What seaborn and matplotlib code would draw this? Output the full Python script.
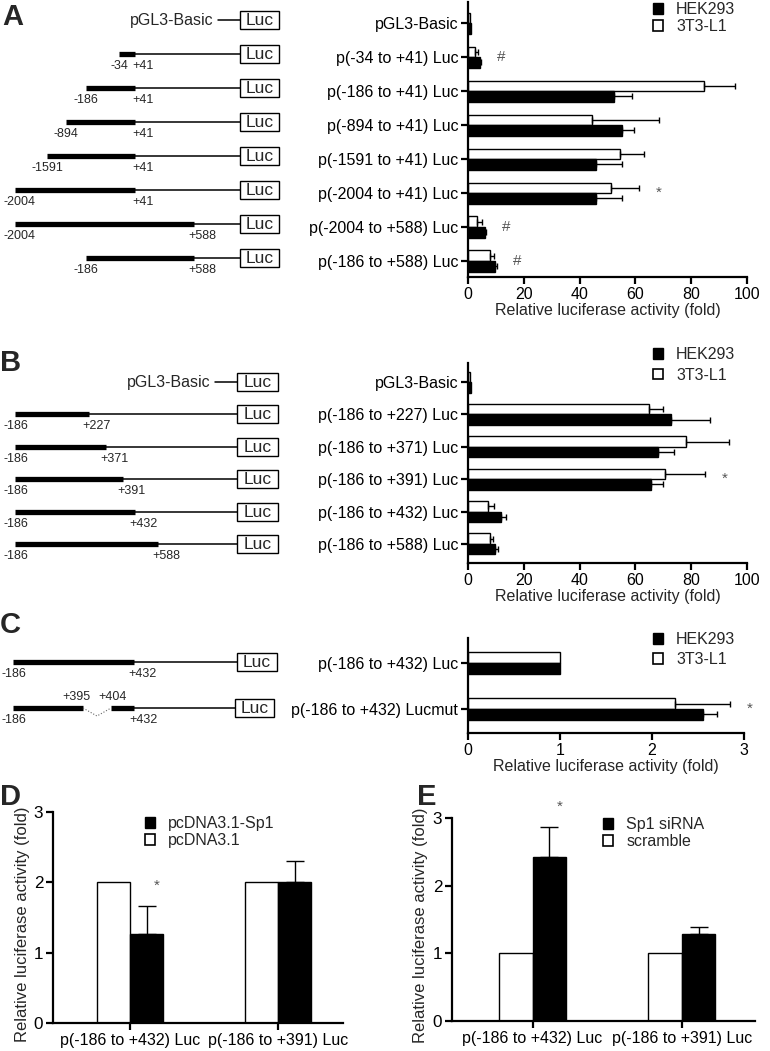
import numpy as np
import pandas as pd
import matplotlib
matplotlib.use('Agg')
import matplotlib.pyplot as plt
import seaborn as sns
from matplotlib.patches import Rectangle, Patch

# ---------------- data ----------------
# Panel A
a_constructs = ['pGL3-Basic', 'p(-34 to +41) Luc', 'p(-186 to +41) Luc', 'p(-894 to +41) Luc',
                'p(-1591 to +41) Luc', 'p(-2004 to +41) Luc', 'p(-2004 to +588) Luc',
                'p(-186 to +588) Luc']
a_hek = [1.0, 4.2, 52.2, 55.3, 45.7, 45.7, 6.0, 9.6]
a_hek_err = [0, 0.4, 6.5, 4.2, 9.6, 9.6, 0.6, 0.9]
a_3t3 = [0.8, 2.4, 84.7, 44.6, 54.6, 51.1, 3.2, 8.0]
a_3t3_err = [0, 1.2, 11.1, 23.9, 8.5, 10.2, 1.8, 1.2]
a_marks = ['', '#', '', '', '', '*', '#', '#']
a_start = [None, -34, -186, -894, -1591, -2004, -2004, -186]
a_end = [None, 41, 41, 41, 41, 41, 588, 588]

# Panel B
b_constructs = ['pGL3-Basic', 'p(-186 to +227) Luc', 'p(-186 to +371) Luc',
                'p(-186 to +391) Luc', 'p(-186 to +432) Luc', 'p(-186 to +588) Luc']
b_hek = [1.0, 72.8, 68.0, 65.5, 11.7, 9.7]
b_hek_err = [0, 13.8, 6.0, 4.3, 1.8, 1.0]
b_3t3 = [0.8, 64.7, 78.1, 70.7, 7.2, 7.9]
b_3t3_err = [0, 5.3, 15.3, 14.3, 2.0, 1.1]
b_marks = ['', '', '', '*', '', '']
b_start = [None, -186, -186, -186, -186, -186]
b_end = [None, 227, 371, 391, 432, 588]

# Panel C
c_constructs = ['p(-186 to +432) Luc', 'p(-186 to +432) Lucmut']
c_hek = [1.0, 2.55]
c_hek_err = [0, 0.16]
c_3t3 = [1.0, 2.25]
c_3t3_err = [0, 0.60]
c_marks = ['', '*']
c_start = [-186, -186]
c_end = [432, 432]
c_mut_gap = [395, 404]

# Panel D
d_constructs = ['p(-186 to +432) Luc', 'p(-186 to +391) Luc']
d_sp1 = [1.27, 2.0]
d_sp1_err = [0.39, 0.30]
d_ctrl = [2.0, 2.0]
d_marks = ['*', '']

# Panel E
e_constructs = ['p(-186 to +432) Luc', 'p(-186 to +391) Luc']
e_sirna = [2.42, 1.29]
e_sirna_err = [0.45, 0.10]
e_scr = [1.0, 1.0]
e_marks = ['*', '']

# schematic scales (genomic position -> drawing position) for the construct diagrams
a_knots_pos = [-2004, -1591, -894, -186, -34, 41, 588]
a_knots_px = [15, 47, 66, 86, 119, 135, 194]
b_knots_pos = [-186, 227, 371, 391, 432, 588]
b_knots_px = [15, 89, 106, 123, 135, 158]
c_knots_pos = [-186, 395, 404, 432]
c_knots_px = [13, 83, 111, 134]

# ---------------- style ----------------
sns.set_style('ticks')
plt.rcParams['font.family'] = ['Liberation Sans', 'DejaVu Sans']
plt.rcParams['axes.linewidth'] = 1.6
FS = 11.5

W, H = 770, 1051
fig = plt.figure(figsize=(W / 100, H / 100), dpi=100)


def px_axes(left, right, top, bottom):
    return fig.add_axes([left / W, 1 - bottom / H, (right - left) / W, (bottom - top) / H])


ov = fig.add_axes([0, 0, 1, 1])
ov.set_xlim(0, W)
ov.set_ylim(H, 0)
ov.axis('off')

MARK = '#555555'


def style_axes(ax):
    sns.despine(ax=ax)
    ax.patch.set_alpha(0)
    ax.tick_params(direction='out', length=5, width=1.6, labelsize=FS, pad=2, colors='black')
    for s in ['left', 'bottom']:
        ax.spines[s].set_linewidth(1.6)
        ax.spines[s].set_color('black')


def hbar_panel(ax, cats, hek, hek_err, t3, t3_err, marks, xmax, xticks, ylim, width):
    n = len(cats)
    df = pd.DataFrame({'construct': cats * 2,
                       'cell': ['3T3-L1'] * n + ['HEK293'] * n,
                       'value': t3 + hek})
    sns.barplot(data=df, x='value', y='construct', hue='cell', order=cats,
                hue_order=['3T3-L1', 'HEK293'],
                palette={'3T3-L1': 'white', 'HEK293': 'black'}, saturation=1,
                edgecolor='black', linewidth=1.0, width=width, orient='h',
                errorbar=None, legend=False, ax=ax)
    for cont, errs in zip(ax.containers, [t3_err, hek_err]):
        ys = np.array([b.get_y() + b.get_height() / 2 for b in cont])
        xs = np.array([b.get_width() for b in cont])
        e = np.array(errs, float)
        m = e > 0
        ax.errorbar(xs[m], ys[m], xerr=[np.zeros(m.sum()), e[m]], fmt='none',
                    ecolor='black', elinewidth=1.0, capsize=2, capthick=1.0)
    ends = np.maximum(np.array(t3) + np.array(t3_err), np.array(hek) + np.array(hek_err))
    for i, mk in enumerate(marks):
        if mk:
            ax.annotate(mk, xy=(ends[i], i), xytext=(20, 0), textcoords='offset pixels',
                        ha='center', va='center', fontsize=11, color=MARK,
                        annotation_clip=False)
    ax.set_xlim(0, xmax)
    ax.set_xticks(xticks)
    ax.set_ylim(*ylim)
    ax.set_ylabel('')
    ax.set_xlabel('Relative luciferase activity (fold)', fontsize=FS, labelpad=1)
    style_axes(ax)


def hek_legend(ax, x, top, spacing):
    handles = [Patch(facecolor='black', edgecolor='black', label='HEK293'),
               Patch(facecolor='white', edgecolor='black', linewidth=1.2, label='3T3-L1')]
    ax.legend(handles=handles, loc='upper left', bbox_to_anchor=(x / W, 1 - top / H),
              bbox_transform=fig.transFigure, frameon=False, borderpad=0, borderaxespad=0,
              handlelength=0.65, handleheight=0.65, handletextpad=0.8, labelspacing=spacing,
              fontsize=FS)


def row_y(ax, i, off=0):
    disp = ax.transData.transform((0, i))
    return ov.transData.inverted().transform(disp)[1] + off


def luc_box(y, bl, br):
    ov.add_patch(Rectangle((bl, y - 9), br - bl, 18, facecolor='white', edgecolor='black',
                           linewidth=1.0, zorder=3))
    ov.text((bl + br) / 2, y + 0.5, 'Luc', ha='center', va='center', fontsize=12.5, zorder=4)


def construct(y, s, e, kpos, kpx, bl, br):
    sx = np.interp(s, kpos, kpx)
    ex = np.interp(e, kpos, kpx)
    ov.plot([sx, ex], [y, y], color='black', lw=3.8, solid_capstyle='butt')
    ov.plot([ex, bl], [y, y], color='black', lw=1.1)
    luc_box(y, bl, br)
    if sx < 20:
        ov.text(max(1, sx - 12), y + 12, f'{s}', ha='left', va='center', fontsize=9)
    else:
        ov.text(sx, y + 12, f'{s}', ha='center', va='center', fontsize=9)
    ov.text(ex + 8, y + 12, f'+{e}', ha='center', va='center', fontsize=9)


def basic_row(y, text_right, bl, br):
    ov.text(text_right, y, 'pGL3-Basic', ha='right', va='center', fontsize=FS)
    ov.plot([text_right + 4, bl], [y, y], color='black', lw=1.1)
    luc_box(y, bl, br)


# ---------------- Panel A ----------------
axA = px_axes(468, 747, 2, 277)
hbar_panel(axA, a_constructs, a_hek, a_hek_err, a_3t3, a_3t3_err, a_marks,
           100, [0, 20, 40, 60, 80, 100], (7.47, -0.62), 0.62)
hek_legend(axA, 653, 2, 0.15)
for i in range(len(a_constructs)):
    y = row_y(axA, i, -3)
    if a_start[i] is None:
        basic_row(y, 214, 240, 279)
    else:
        construct(y, a_start[i], a_end[i], a_knots_pos, a_knots_px, 240, 279)

# ---------------- Panel B ----------------
axB = px_axes(468, 747, 363, 563)
hbar_panel(axB, b_constructs, b_hek, b_hek_err, b_3t3, b_3t3_err, b_marks,
           100, [0, 20, 40, 60, 80, 100], (5.59, -0.59), 0.65)
hek_legend(axB, 653, 347, 0.35)
for i in range(len(b_constructs)):
    y = row_y(axB, i, 0)
    if b_start[i] is None:
        basic_row(y, 211, 237, 278)
    else:
        construct(y, b_start[i], b_end[i], b_knots_pos, b_knots_px, 237, 278)

# ---------------- Panel C ----------------
axC = px_axes(468, 744, 638, 733)
hbar_panel(axC, c_constructs, c_hek, c_hek_err, c_3t3, c_3t3_err, c_marks,
           3, [0, 1, 2, 3], (1.52, -0.54), 0.46)
hek_legend(axC, 653, 632, 0.3)
y = row_y(axC, 0, -1)
construct(y, c_start[0], c_end[0], c_knots_pos, c_knots_px, 237, 277)
y = row_y(axC, 1, -1)
sx = np.interp(c_start[1], c_knots_pos, c_knots_px)
g1 = np.interp(c_mut_gap[0], c_knots_pos, c_knots_px)
g2 = np.interp(c_mut_gap[1], c_knots_pos, c_knots_px)
ex = np.interp(c_end[1], c_knots_pos, c_knots_px)
ov.plot([sx, g1], [y, y], color='black', lw=3.8, solid_capstyle='butt')
ov.plot([g1, (g1 + g2) / 2, g2], [y, y + 8, y], color='#666666', lw=0.8, ls=':')
ov.plot([g2, ex], [y, y], color='black', lw=3.8, solid_capstyle='butt')
ov.plot([ex, 235], [y, y], color='black', lw=1.1)
luc_box(y, 235, 274)
ov.text(max(1, sx - 12), y + 12, f'{c_start[1]}', ha='left', va='center', fontsize=9)
ov.text(ex + 9, y + 12, f'+{c_end[1]}', ha='center', va='center', fontsize=9)
ov.text(g1 - 7, y - 11, f'+{c_mut_gap[0]}', ha='center', va='center', fontsize=9)
ov.text(g2 + 2, y - 11, f'+{c_mut_gap[1]}', ha='center', va='center', fontsize=9)


# ---------------- Panels D, E ----------------
def vbar_panel(ax, cats, treat, treat_err, ctrl, treat_name, ctrl_name, marks, xlim, lab_x):
    df = pd.DataFrame({'construct': cats * 2,
                       'group': [ctrl_name] * len(cats) + [treat_name] * len(cats),
                       'value': ctrl + treat})
    sns.barplot(data=df, x='construct', y='value', hue='group', order=cats,
                hue_order=[ctrl_name, treat_name],
                palette={ctrl_name: 'white', treat_name: 'black'}, saturation=1,
                edgecolor='black', linewidth=1.0, width=0.45, errorbar=None,
                legend=False, ax=ax)
    cont = ax.containers[1]
    xs = np.array([b.get_x() + b.get_width() / 2 for b in cont])
    ys = np.array([b.get_height() for b in cont])
    e = np.array(treat_err, float)
    ax.errorbar(xs, ys, yerr=[np.zeros(len(e)), e], fmt='none', ecolor='black',
                elinewidth=1.0, capsize=6.5, capthick=1.0)
    for i, mk in enumerate(marks):
        if mk:
            ax.annotate(mk, xy=(xs[i], ys[i] + e[i]), xytext=(10, 20),
                        textcoords='offset pixels', ha='center', va='center',
                        fontsize=11, color=MARK, annotation_clip=False)
    ax.set_ylim(0, 3)
    ax.set_yticks([0, 1, 2, 3])
    ax.set_xlim(*xlim)
    ax.set_xlabel('')
    ax.set_ylabel('Relative luciferase activity (fold)', fontsize=12)
    style_axes(ax)
    ax.tick_params(axis='y', labelsize=12.3)
    ax.tick_params(axis='x', labelsize=FS)
    ax.yaxis.set_label_coords(lab_x, 0.47)
    handles = [Patch(facecolor='black', edgecolor='black', label=treat_name),
               Patch(facecolor='white', edgecolor='black', linewidth=1.2, label=ctrl_name)]
    return handles


axD = px_axes(53, 343, 812, 1023)
hD = vbar_panel(axD, d_constructs, d_sp1, d_sp1_err, d_ctrl, 'pcDNA3.1-Sp1', 'pcDNA3.1',
                d_marks, (-0.52, 1.44), -0.079)
axD.legend(handles=hD, loc='upper left', bbox_to_anchor=(145 / W, 1 - 816 / H),
           bbox_transform=fig.transFigure, frameon=False, borderpad=0, borderaxespad=0,
           handlelength=0.65, handleheight=0.65, handletextpad=0.8, labelspacing=0.15,
           fontsize=FS)

axE = px_axes(452, 755, 818, 1021)
hE = vbar_panel(axE, e_constructs, e_sirna, e_sirna_err, e_scr, 'Sp1 siRNA', 'scramble',
                e_marks, (-0.54, 1.49), -0.079)
axE.legend(handles=hE, loc='upper left', bbox_to_anchor=(603 / W, 1 - 817 / H),
           bbox_transform=fig.transFigure, frameon=False, borderpad=0, borderaxespad=0,
           handlelength=0.65, handleheight=0.65, handletextpad=0.8, labelspacing=0.15,
           fontsize=FS)

# ---------------- panel letters ----------------
for letter, x, y in [('A', 2, 17), ('B', 0, 363), ('C', 0, 625), ('D', 0, 797), ('E', 417, 797)]:
    ov.text(x, y, letter, ha='left', va='center', fontsize=21, fontweight='bold')

fig.savefig('out.png', dpi=100)
